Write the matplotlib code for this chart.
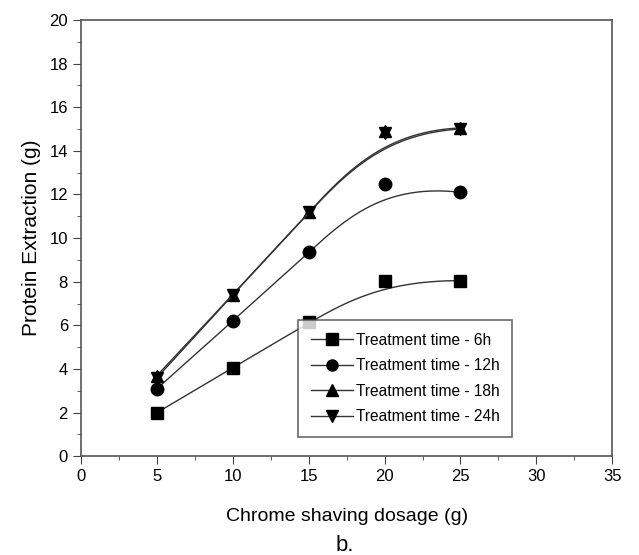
import numpy as np
import matplotlib
matplotlib.use("Agg")
import matplotlib.pyplot as plt
from matplotlib.ticker import MultipleLocator

plt.rcParams["font.family"] = ["Liberation Sans", "DejaVu Sans"]

# chrome shaving dosage (g)
dosage = [5, 10, 15, 20, 25]
# protein extraction (g) for each treatment time
t6h = [2.0, 4.05, 6.15, 8.05, 8.05]
t12h = [3.1, 6.2, 9.35, 12.5, 12.1]
t18h = [3.7, 7.4, 11.2, 14.9, 15.05]
t24h = [3.6, 7.4, 11.2, 14.8, 15.0]
labels = ["Treatment time - 6h", "Treatment time - 12h",
          "Treatment time - 18h", "Treatment time - 24h"]
markers = ["s", "o", "^", "v"]


def bspline(px, py, n=200, k=3):
    # clamped B-spline using the data points as control points (Origin style)
    px = np.asarray(px, float)
    py = np.asarray(py, float)
    m = len(px)
    inner = np.linspace(0, 1, m - k + 1)[1:-1]
    t = np.concatenate([np.zeros(k + 1), inner, np.ones(k + 1)])
    u = np.linspace(0, 1, n)
    u[-1] -= 1e-9
    B = np.zeros((n, len(t) - 1))
    for i in range(len(t) - 1):
        B[:, i] = (t[i] <= u) & (u < t[i + 1])
    for d in range(1, k + 1):
        Bn = np.zeros((n, len(t) - 1 - d))
        for i in range(len(t) - 1 - d):
            a = t[i + d] - t[i]
            b = t[i + d + 1] - t[i + 1]
            left = (u - t[i]) / a * B[:, i] if a > 0 else 0
            right = (t[i + d + 1] - u) / b * B[:, i + 1] if b > 0 else 0
            Bn[:, i] = left + right
        B = Bn
    return B @ px, B @ py


fig = plt.figure(figsize=(6.39, 5.55), dpi=100)
ax = fig.add_axes([0.127, 0.178, 0.831, 0.786])

for ys, lab, mk in zip([t6h, t12h, t18h, t24h], labels, markers):
    cx, cy = bspline(dosage, ys)
    ax.plot(cx, cy, color="#333333", lw=1.0)
    ax.plot(dosage, ys, ls="none", marker=mk, color="black", ms=9)
    ax.plot([], [], color="#333333", lw=1.0, marker=mk, mfc="black",
            mec="black", ms=8, label=lab)

ax.set_xlim(0, 35)
ax.set_ylim(0, 20)
ax.xaxis.set_major_locator(MultipleLocator(5))
ax.xaxis.set_minor_locator(MultipleLocator(2.5))
ax.yaxis.set_major_locator(MultipleLocator(2))
ax.yaxis.set_minor_locator(MultipleLocator(1))
ax.tick_params(which="both", direction="out", top=False, right=False,
               labelsize=12, color="#444444")
ax.tick_params(which="major", length=6)
ax.tick_params(which="minor", length=3)
for s in ax.spines.values():
    s.set_color("#555555")
    s.set_linewidth(1.2)

ax.set_xlabel("Chrome shaving dosage (g)", fontsize=14, labelpad=17)
ax.set_ylabel("Protein Extraction (g)", fontsize=15, labelpad=6)

leg = ax.legend(loc="upper left", bbox_to_anchor=(0.409, 0.312),
                fontsize=11.2, frameon=True, fancybox=False,
                handlelength=2.7, handletextpad=0.2, borderpad=0.8,
                labelspacing=0.68, borderaxespad=0)
leg.get_frame().set_edgecolor("#444444")
leg.get_frame().set_linewidth(1.2)

fig.text(0.54, 0.017, "b.", fontsize=16, ha="center", va="center")

fig.savefig("out.png", dpi=100)
